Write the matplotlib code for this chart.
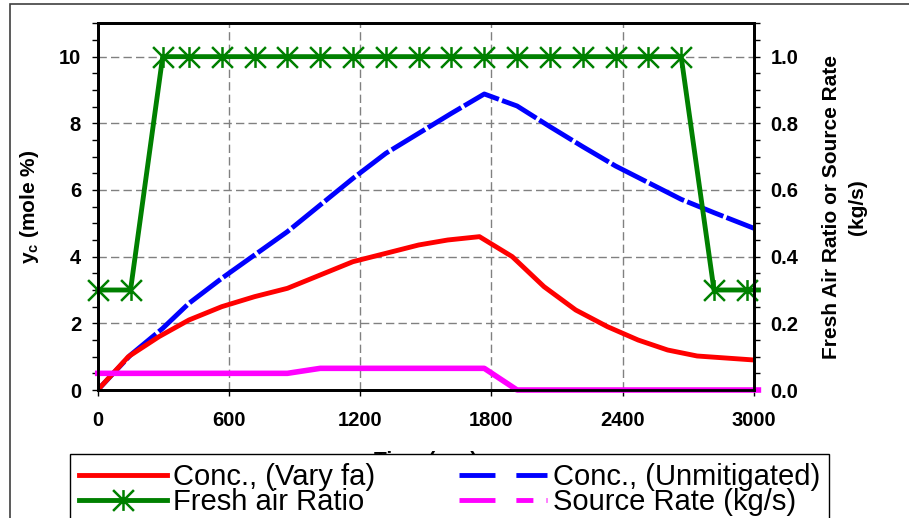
import matplotlib
matplotlib.use('Agg')
import matplotlib.pyplot as plt
from matplotlib.lines import Line2D
from matplotlib.path import Path
from matplotlib.patches import Rectangle
from matplotlib.ticker import MultipleLocator, FormatStrFormatter

plt.rcParams['font.family'] = ['Liberation Sans', 'DejaVu Sans']
plt.rcParams['font.weight'] = 'bold'
plt.rcParams['axes.labelweight'] = 'bold'
plt.rcParams['mathtext.fontset'] = 'custom'
plt.rcParams['mathtext.bf'] = 'Liberation Sans:bold'
plt.rcParams['mathtext.rm'] = 'Liberation Sans:bold'

# concentration, unmitigated (mole %)
t_unmit = [0, 150, 297, 417, 567, 717, 867, 1017, 1167, 1317, 1467, 1617, 1767,
           1917, 2067, 2217, 2367, 2517, 2667, 2817, 3000]
conc_unmit = [0, 1.05, 1.85, 2.6, 3.35, 4.05, 4.75, 5.55, 6.35, 7.1, 7.7, 8.3, 8.88,
              8.52, 7.9, 7.3, 6.72, 6.22, 5.72, 5.32, 4.85]

# concentration with varying fresh air (mole %)
t_vary = [0, 140, 280, 417, 567, 717, 867, 1017, 1167, 1317, 1467, 1600, 1745,
          1895, 2040, 2185, 2330, 2470, 2605, 2740, 3000]
conc_vary = [0, 1.0, 1.6, 2.1, 2.5, 2.8, 3.05, 3.45, 3.85, 4.1, 4.35, 4.5, 4.6,
             4.0, 3.1, 2.4, 1.9, 1.5, 1.2, 1.02, 0.9]

# fresh air ratio (right axis)
t_fa = [0, 150, 297, 417, 567, 717, 867, 1017, 1167, 1317, 1467, 1617, 1767,
        1917, 2067, 2217, 2367, 2517, 2667, 2817, 2967, 3020]
fa_ratio = [0.3, 0.3, 1.0, 1.0, 1.0, 1.0, 1.0, 1.0, 1.0, 1.0, 1.0, 1.0, 1.0,
            1.0, 1.0, 1.0, 1.0, 1.0, 1.0, 0.3, 0.3, 0.3]

# source rate kg/s (right axis)
t_src = [0, 867, 1017, 1767, 1917, 3020]
src_rate = [0.05, 0.05, 0.065, 0.065, 0.0, 0.0]

labels = ['Conc., (Vary fa)', 'Fresh air Ratio', 'Conc., (Unmitigated)', 'Source Rate (kg/s)']

# excel style star: vertical bar + X
star = Path([(0, -1), (0, 1), (-1, -1), (1, 1), (-1, 1), (1, -1)],
            [Path.MOVETO, Path.LINETO, Path.MOVETO, Path.LINETO, Path.MOVETO, Path.LINETO])

fig = plt.figure(figsize=(9.09, 5.18), dpi=100)
ax = fig.add_axes([0.1075, 0.2471, 0.7220, 0.7079])
ax2 = ax.twinx()

ax.plot(t_unmit, conc_unmit, color='#0000FF', lw=3.5, dashes=(8, 0.7))
ax.plot(t_vary, conc_vary, color='#FF0000', lw=3.5)
ax2.plot(t_src, src_rate, color='#FF00FF', lw=4, solid_capstyle='projecting', clip_on=False)
ax2.plot(t_fa, fa_ratio, color='#008000', lw=3.5, marker=star, ms=15, mew=1.8,
         markevery=slice(0, len(t_fa) - 1), clip_on=False)

ax.set_xlim(0, 3000)
ax.set_ylim(0, 11)
ax2.set_ylim(0, 1.1)
ax.xaxis.set_major_locator(MultipleLocator(600))
ax.yaxis.set_major_locator(MultipleLocator(2))
ax.yaxis.set_minor_locator(MultipleLocator(0.5))
ax2.yaxis.set_major_locator(MultipleLocator(0.2))
ax2.yaxis.set_minor_locator(MultipleLocator(0.05))
ax2.yaxis.set_major_formatter(FormatStrFormatter('%.1f'))

ax.grid(True, which='major', color='#808080', linestyle=(0, (6, 3)), linewidth=1)

ax.tick_params(axis='x', which='major', direction='out', length=4.5, width=1, pad=10.5, labelsize=14.5)
ax.tick_params(axis='y', which='both', direction='out', length=4.5, width=1, pad=7.5, labelsize=14.5)
ax2.tick_params(axis='y', which='both', direction='out', length=4.5, width=1, pad=7.5, labelsize=14.5)

for a in (ax, ax2):
    for s in a.spines.values():
        s.set_linewidth(2)
        s.set_color('black')

ax.set_xlabel('Time (sec)', fontsize=15, labelpad=15.5)
ax.set_ylabel(r'$\mathbf{y_c}$ (mole %)', fontsize=15, labelpad=13)
ax2.set_ylabel('Fresh Air Ratio or Source Rate\n(kg/s)', fontsize=15, labelpad=17,
               linespacing=1.45)

# legend handles
handles = [
    Line2D([], [], color='#FF0000', lw=3.5),
    Line2D([], [], color='#008000', lw=3.5, marker=star, ms=15, mew=1.8),
    Line2D([], [], color='#0000FF', lw=3.5, dashes=(7.4, 4.3)),
    Line2D([], [], color='#FF00FF', lw=3.5, dashes=(7.4, 4.3, 3.5, 2.7, 0.6, 2.7)),
]
leg = fig.legend(handles, labels, ncol=2, loc='upper left',
                 bbox_to_anchor=(70 / 909, 1 - 454 / 518), borderaxespad=0,
                 frameon=True, fancybox=False, edgecolor='black', framealpha=1,
                 prop={'size': 21, 'weight': 'normal'}, handlelength=3.02,
                 handletextpad=0.2, columnspacing=2.9, borderpad=0.3,
                 labelspacing=-0.1, numpoints=1)
leg.get_frame().set_linewidth(1)

# outer chart border
fig.patches.append(Rectangle((10 / 909, -0.05), 1.0, 1 - 4 / 518 + 0.05,
                             transform=fig.transFigure, fill=False,
                             ec='#404040', lw=1.2))

fig.savefig('out.png', dpi=100)
